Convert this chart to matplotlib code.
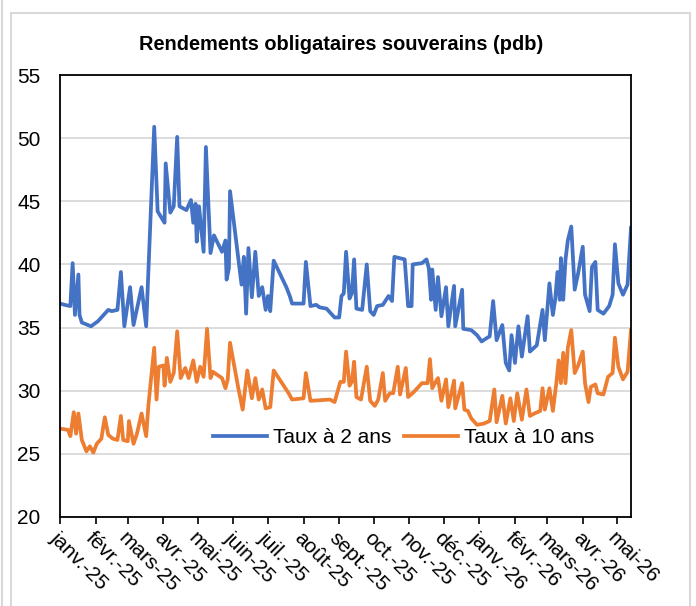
import pandas as pd
import matplotlib
matplotlib.use("Agg")
import matplotlib.pyplot as plt
from matplotlib.patches import Rectangle
from matplotlib.lines import Line2D

plt.rcParams["font.family"] = ["Liberation Sans", "DejaVu Sans"]

# DATA (pdb)

dates_2y = [
    "2025-01-01", "2025-01-05", "2025-01-10", "2025-01-12", "2025-01-14", "2025-01-17", "2025-01-18", "2025-01-20",
    "2025-01-28", "2025-02-03", "2025-02-12", "2025-02-15", "2025-02-20", "2025-02-23", "2025-02-26", "2025-03-03",
    "2025-03-06", "2025-03-13", "2025-03-17", "2025-03-24", "2025-03-27", "2025-04-02", "2025-04-03", "2025-04-07",
    "2025-04-10", "2025-04-13", "2025-04-15", "2025-04-21", "2025-04-25", "2025-04-27", "2025-04-29", "2025-04-30",
    "2025-05-02", "2025-05-06", "2025-05-08", "2025-05-12", "2025-05-15", "2025-05-22", "2025-05-25", "2025-05-26",
    "2025-05-28", "2025-05-29", "2025-06-08", "2025-06-10", "2025-06-12", "2025-06-14", "2025-06-17", "2025-06-20",
    "2025-06-23", "2025-06-26", "2025-06-29", "2025-07-01", "2025-07-03", "2025-07-06", "2025-07-17", "2025-07-20",
    "2025-07-22", "2025-08-01", "2025-08-03", "2025-08-07", "2025-08-12", "2025-08-15", "2025-08-21", "2025-08-28",
    "2025-09-01", "2025-09-03", "2025-09-05", "2025-09-07", "2025-09-10", "2025-09-12", "2025-09-14", "2025-09-16",
    "2025-09-21", "2025-09-25", "2025-09-28", "2025-10-01", "2025-10-04", "2025-10-09", "2025-10-14", "2025-10-17",
    "2025-10-19", "2025-10-28", "2025-10-31", "2025-11-03", "2025-11-04", "2025-11-12", "2025-11-16", "2025-11-18",
    "2025-11-20", "2025-11-21", "2025-11-24", "2025-11-26", "2025-11-29", "2025-12-03", "2025-12-05", "2025-12-10",
    "2025-12-11", "2025-12-17", "2025-12-18", "2025-12-25", "2025-12-30", "2026-01-03", "2026-01-08", "2026-01-10",
    "2026-01-13", "2026-01-16", "2026-01-21", "2026-01-24", "2026-01-27", "2026-01-29", "2026-02-01", "2026-02-04",
    "2026-02-07", "2026-02-12", "2026-02-14", "2026-02-20", "2026-02-25", "2026-02-27", "2026-03-03", "2026-03-06",
    "2026-03-08", "2026-03-10", "2026-03-12", "2026-03-13", "2026-03-15", "2026-03-17", "2026-03-19", "2026-03-22",
    "2026-03-25", "2026-03-28", "2026-04-01", "2026-04-03", "2026-04-07", "2026-04-09", "2026-04-12", "2026-04-14",
    "2026-04-19", "2026-04-24", "2026-04-27", "2026-04-29", "2026-05-02", "2026-05-06", "2026-05-10", "2026-05-13",
]
taux_2y = [
    36.9, 36.8, 36.7, 40.1, 36.0, 39.2, 36.0, 35.4,
    35.1, 35.5, 36.4, 36.3, 36.4, 39.4, 35.1, 38.2,
    35.2, 38.2, 35.1, 50.9, 44.2, 43.3, 48.0, 44.1,
    44.6, 50.1, 44.6, 44.3, 45.1, 43.3, 44.8, 41.8,
    44.6, 41.0, 49.3, 40.9, 42.3, 41.0, 41.9, 38.8,
    39.7, 45.8, 38.4, 40.6, 36.1, 41.3, 37.4, 41.0,
    37.5, 38.2, 36.4, 37.5, 36.3, 40.3, 38.2, 37.5,
    36.9, 36.9, 40.2, 36.7, 36.8, 36.6, 36.5, 35.8,
    35.8, 37.5, 37.7, 41.0, 37.3, 37.7, 40.4, 36.5,
    36.4, 40.0, 36.3, 36.0, 36.7, 36.8, 37.5, 37.1,
    40.6, 40.4, 36.7, 36.7, 40.0, 40.1, 40.4, 39.7,
    37.2, 39.6, 36.4, 39.0, 35.9, 38.2, 35.1, 38.3,
    35.1, 38.0, 34.9, 34.8, 34.4, 33.9, 34.2, 34.3,
    37.1, 34.0, 35.2, 32.2, 31.6, 34.4, 32.2, 35.1,
    32.7, 35.9, 33.1, 33.6, 36.4, 34.0, 38.5, 36.0,
    37.2, 39.4, 37.2, 40.5, 37.2, 40.4, 41.9, 43.0,
    38.0, 39.3, 41.4, 37.6, 36.3, 39.8, 40.2, 36.4,
    36.1, 36.7, 37.6, 41.6, 38.5, 37.6, 38.4, 42.9,
]

dates_10y = [
    "2025-01-01", "2025-01-08", "2025-01-10", "2025-01-13", "2025-01-15", "2025-01-17", "2025-01-20", "2025-01-24",
    "2025-01-27", "2025-01-30", "2025-02-02", "2025-02-06", "2025-02-09", "2025-02-12", "2025-02-16", "2025-02-20",
    "2025-02-23", "2025-02-25", "2025-03-01", "2025-03-02", "2025-03-06", "2025-03-09", "2025-03-13", "2025-03-17",
    "2025-03-19", "2025-03-24", "2025-03-26", "2025-03-28", "2025-04-01", "2025-04-02", "2025-04-04", "2025-04-07",
    "2025-04-10", "2025-04-13", "2025-04-16", "2025-04-20", "2025-04-23", "2025-04-27", "2025-04-30", "2025-05-03",
    "2025-05-06", "2025-05-09", "2025-05-12", "2025-05-14", "2025-05-22", "2025-05-25", "2025-05-27", "2025-05-29",
    "2025-06-05", "2025-06-09", "2025-06-13", "2025-06-17", "2025-06-20", "2025-06-23", "2025-06-26", "2025-06-29",
    "2025-07-03", "2025-07-06", "2025-07-19", "2025-07-22", "2025-08-01", "2025-08-03", "2025-08-07", "2025-08-24",
    "2025-08-28", "2025-09-02", "2025-09-05", "2025-09-07", "2025-09-10", "2025-09-12", "2025-09-14", "2025-09-16",
    "2025-09-20", "2025-09-25", "2025-09-28", "2025-10-02", "2025-10-05", "2025-10-09", "2025-10-11", "2025-10-15",
    "2025-10-18", "2025-10-22", "2025-10-24", "2025-10-29", "2025-10-31", "2025-11-05", "2025-11-12", "2025-11-17",
    "2025-11-19", "2025-11-21", "2025-11-24", "2025-11-26", "2025-11-29", "2025-12-03", "2025-12-05", "2025-12-10",
    "2025-12-11", "2025-12-17", "2025-12-19", "2025-12-22", "2025-12-25", "2025-12-30", "2026-01-05", "2026-01-10",
    "2026-01-14", "2026-01-16", "2026-01-21", "2026-01-24", "2026-01-28", "2026-01-31", "2026-02-03", "2026-02-07",
    "2026-02-11", "2026-02-14", "2026-02-18", "2026-02-23", "2026-02-25", "2026-02-27", "2026-03-03", "2026-03-06",
    "2026-03-09", "2026-03-11", "2026-03-13", "2026-03-15", "2026-03-17", "2026-03-19", "2026-03-22", "2026-03-25",
    "2026-03-28", "2026-04-01", "2026-04-03", "2026-04-06", "2026-04-08", "2026-04-12", "2026-04-14", "2026-04-19",
    "2026-04-23", "2026-04-27", "2026-04-29", "2026-05-02", "2026-05-06", "2026-05-10", "2026-05-13",
]
taux_10y = [
    27.0, 26.9, 26.4, 28.3, 26.6, 28.2, 26.1, 25.2,
    25.6, 25.1, 25.8, 26.2, 27.9, 26.5, 26.2, 26.1,
    28.0, 26.1, 26.0, 27.6, 25.8, 26.6, 28.2, 26.4,
    28.9, 33.4, 29.3, 31.9, 32.0, 30.4, 32.6, 30.7,
    31.4, 34.7, 31.0, 31.8, 31.0, 32.4, 30.7, 31.9,
    31.1, 34.9, 31.0, 31.5, 31.0, 30.2, 30.9, 33.8,
    30.3, 28.5, 31.6, 29.4, 31.0, 29.3, 30.1, 28.6,
    28.7, 31.6, 29.8, 29.3, 29.4, 31.4, 29.2, 29.3,
    29.1, 30.7, 30.7, 33.1, 30.4, 30.7, 32.3, 29.5,
    29.3, 31.9, 29.2, 28.8, 29.3, 31.4, 29.2, 29.8,
    29.8, 31.9, 29.7, 31.8, 29.5, 29.9, 30.6, 30.6,
    32.5, 30.2, 30.7, 31.0, 29.2, 30.9, 28.7, 30.8,
    28.6, 30.6, 28.5, 28.4, 27.8, 27.3, 27.4, 27.6,
    30.1, 27.5, 29.6, 27.4, 29.4, 27.6, 29.8, 27.7,
    30.1, 28.0, 28.2, 28.4, 30.2, 28.5, 30.2, 28.4,
    30.6, 32.4, 30.6, 33.0, 30.6, 33.4, 34.8, 31.4,
    32.0, 33.1, 30.6, 29.1, 30.3, 30.5, 29.8, 29.7,
    31.1, 31.4, 34.2, 31.9, 30.9, 31.5, 34.8,
]

month_labels = ["janv.-25", "févr.-25", "mars-25", "avr.-25", "mai-25", "juin-25", "juil.-25", "août-25",
                "sept.-25", "oct.-25", "nov.-25", "déc.-25", "janv.-26", "févr.-26", "mars-26", "avr.-26", "mai-26"]

# PLOT

W, H = 696, 606
fig = plt.figure(figsize=(W / 100, H / 100), dpi=100)

# light grey frame around the chart
fig.add_artist(Rectangle((11 / W, -0.02), 679 / W, (H - 13) / H + 0.02, transform=fig.transFigure,
                         fill=False, edgecolor="#d9d9d9", linewidth=1.5))
fig.add_artist(Line2D([2 / W, 2 / W], [0, 1], transform=fig.transFigure, color="#d9d9d9", linewidth=1.5))

ax = fig.add_axes([60 / W, 1 - 517 / H, (631 - 60) / W, (517 - 75) / H])

ax.plot(pd.to_datetime(dates_2y), taux_2y, color="#4472C4", linewidth=2.7, label="Taux à 2 ans",
        solid_joinstyle="round")
ax.plot(pd.to_datetime(dates_10y), taux_10y, color="#ED7D31", linewidth=2.7, label="Taux à 10 ans",
        solid_joinstyle="round")

ax.set_ylim(20, 55)
ax.set_yticks(range(20, 56, 5))
ax.set_xlim(pd.Timestamp("2025-01-01"), pd.Timestamp("2026-05-13"))

ticks = pd.date_range("2025-01-01", "2026-05-01", freq="MS")
ax.set_xticks(ticks)
ax.set_xticklabels(month_labels, rotation=-45, ha="left", va="top", rotation_mode="anchor")

ax.grid(axis="y", color="#d9d9d9", linewidth=1.3)
ax.set_axisbelow(True)
for s in ax.spines.values():
    s.set_color("black")
    s.set_linewidth(1.3)

ax.tick_params(axis="y", length=0, pad=14, labelsize=15)
ax.tick_params(axis="x", length=5, width=1.2, direction="out", pad=3, labelsize=15)

ax.legend(loc="center", bbox_to_anchor=(0.602, 0.18), ncol=2, frameon=False, fontsize=15,
          handlelength=2.6, handletextpad=0.3, columnspacing=0.6, borderpad=0)

fig.text(341 / W, 1 - 45 / H, "Rendements obligataires souverains (pdb)", ha="center", va="center",
         fontsize=14.4, fontweight="bold")

plt.savefig("out.png", dpi=100)
plt.close()
